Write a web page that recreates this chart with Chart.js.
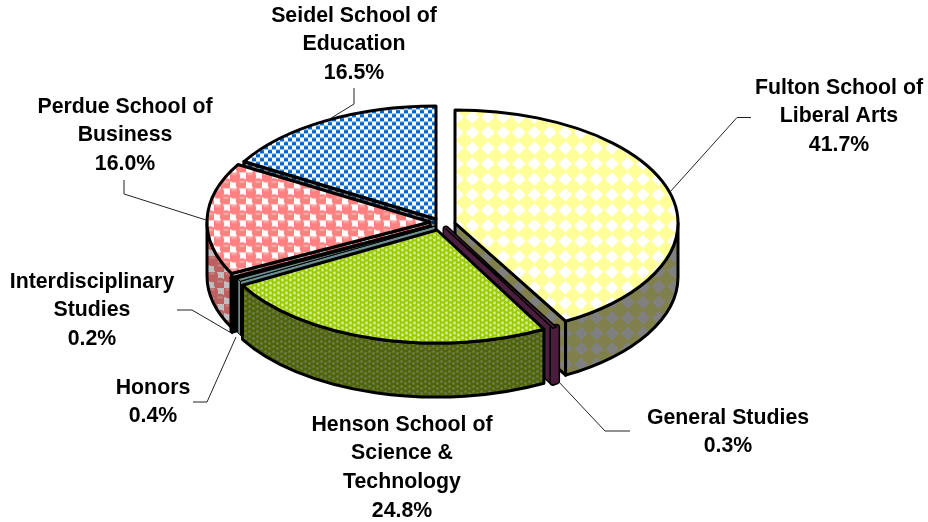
<!DOCTYPE html>
<html>
<head>
<meta charset="utf-8">
<style>
  html, body { margin: 0; padding: 0; background: #fff; }
  #wrap { width: 928px; height: 522px; }
</style>
<script src="https://cdn.jsdelivr.net/npm/chart.js@4/dist/chart.umd.min.js"></script>
</head>
<body>
<div id="wrap"><canvas id="pieChart" width="928" height="522"></canvas></div>
<script>
// Chart data
const schools = [
    ["Fulton School of", "Liberal Arts"],
    ["General Studies"],
    ["Henson School of", "Science &", "Technology"],
    ["Honors"],
    ["Interdisciplinary", "Studies"],
    ["Perdue School of", "Business"],
    ["Seidel School of", "Education"],
];
const shares = [41.7, 0.3, 24.8, 0.4, 0.2, 16.0, 16.5];

// Look of the 3D pie
const squash = 0.507;
const depth = 54;
const pieRadius = 223;
const sliceShift = [[15, -1], [6, 5], [-3, 6], [-5, 2], [-11, 2], [-10, -2], [-4, -5]]; // exploded slices
const drawOrder = [6, 0, 5, 1, 4, 3, 2]; // back to front
const edgeWidth = [3, 1.4, 3, 1, 2, 3, 3];
const fatSlice = [0, 4, 0, 0, 0, 0, 0]; // too thin to see otherwise

// Label centres and leader lines
const labelSpots = [[839, 88], [728, 418], [402, 425], [153, 388], [92, 282], [125, 107], [354, 16]];
const lineHeight = 28.6;
const leaders = [
    [[751, 117.5], [737, 117.5], [670, 192]],
    [[630, 431], [605, 431], [558, 381]],
    [],
    [[193, 402], [207, 402], [236, 337]],
    [[177, 310], [192, 310], [233, 334]],
    [[124, 180], [124, 194], [206, 220]],
    [[354, 88], [354, 104], [328, 120]],
];

// Pattern tiles. f < 1 gives the darker version for the walls
function scaleColor(hex, f) {
    const n = parseInt(hex.slice(1), 16);
    const r = Math.round(((n >> 16) & 255) * f);
    const g = Math.round(((n >> 8) & 255) * f);
    const b = Math.round((n & 255) * f);
    return `rgb(${r},${g},${b})`;
}

function makeTile(w, h, paint) {
    const c = document.createElement("canvas");
    c.width = w;
    c.height = h;
    paint(c.getContext("2d"));
    return c;
}

function diamondTile(f) {
    return makeTile(31, 31, (t) => {
        t.fillStyle = scaleColor("#FFFF99", f);
        t.fillRect(0, 0, 31, 31);
        t.fillStyle = scaleColor("#FFFFFF", f);
        [[7.75, 7.75], [23.25, 7.75], [7.75, 23.25], [23.25, 23.25]].forEach(([x, y]) => {
            t.beginPath();
            t.moveTo(x - 6.8, y);
            t.lineTo(x, y - 6.8);
            t.lineTo(x + 6.8, y);
            t.lineTo(x, y + 6.8);
            t.closePath();
            t.fill();
        });
    });
}

function dotTile(f) {
    return makeTile(8, 10, (t) => {
        t.fillStyle = scaleColor("#99CC00", f);
        t.fillRect(0, 0, 8, 10);
        t.fillStyle = scaleColor("#C4E060", f);
        t.fillRect(0, 0, 3, 3);
        t.fillRect(0, 5, 3, 3);
        t.fillRect(4, 2, 3, 3);
        t.fillRect(4, 7, 3, 3);
        t.fillStyle = scaleColor("#FFFFFF", f);
        t.fillRect(1, 1, 1, 1);
        t.fillRect(1, 6, 1, 1);
        t.fillRect(5, 3, 1, 1);
        t.fillRect(5, 8, 1, 1);
    });
}

function sphereTile(f) {
    return makeTile(16, 16, (t) => {
        t.fillStyle = scaleColor("#FFFFFF", f);
        t.fillRect(0, 0, 16, 16);
        [[4, 4], [12, 12]].forEach(([x, y]) => {
            t.fillStyle = scaleColor("#FF8080", f);
            t.beginPath();
            t.arc(x, y, 6.2, 0, Math.PI * 2);
            t.fill();
            t.fillStyle = scaleColor("#FFB0B0", f);
            t.fillRect(x - 2.5, y - 3.5, 5, 2);
        });
    });
}

function checkTile(f) {
    return makeTile(8, 8, (t) => {
        t.fillStyle = scaleColor("#0066CC", f);
        t.fillRect(0, 0, 8, 8);
        t.fillStyle = scaleColor("#5C9EE0", f);
        t.fillRect(0, 0, 8, 1);
        t.fillRect(0, 4, 8, 1);
        t.fillStyle = scaleColor("#FFFFFF", f);
        t.fillRect(0, 0, 4, 4);
        t.fillRect(4, 4, 4, 4);
    });
}

const canvas = document.getElementById("pieChart");
const ctx = canvas.getContext("2d");

function flatPattern(tile) {
    return ctx.createPattern(tile, "repeat");
}

// tops are filled under the squash transform, so undo it for the pattern
function topPattern(tile) {
    const p = ctx.createPattern(tile, "repeat");
    p.setTransform(new DOMMatrix().scale(1, 1 / squash));
    return p;
}

const topFills = [
    topPattern(diamondTile(1)),
    "#4A1E3C",
    topPattern(dotTile(1)),
    "#6B8E8E",
    "#000000",
    topPattern(sphereTile(1)),
    topPattern(checkTile(1)),
];
const wallFills = [
    flatPattern(diamondTile(0.5)),
    "#4A1E3C",
    flatPattern(dotTile(0.5)),
    "#6B8E8E",
    "#000000",
    flatPattern(sphereTile(0.75)),
    flatPattern(checkTile(0.5)),
];

// thin slices get a wide stroke in their own colour inside the black edge
function paintShape(c, i, fill) {
    c.lineJoin = "round";
    if (fatSlice[i]) {
        c.lineWidth = fatSlice[i] + 3;
        c.strokeStyle = "#000";
        c.stroke();
        c.lineWidth = fatSlice[i];
        c.strokeStyle = fill;
        c.stroke();
        c.fillStyle = fill;
        c.fill();
        return;
    }
    c.fillStyle = fill;
    c.fill();
    c.lineWidth = edgeWidth[i];
    c.strokeStyle = "#000";
    c.stroke();
}

// Draws the slices one by one: walls, then the flat top through arc.draw
const pie3d = {
    id: "pie3d",
    beforeDatasetDraw(chart, args) {
        const c = chart.ctx;
        const arcs = args.meta.data;
        drawOrder.forEach((i) => {
            const arc = arcs[i];
            const a0 = arc.startAngle;
            const a1 = arc.endAngle;
            const r = arc.outerRadius;
            const ax = arc.x + sliceShift[i][0];
            const ay = arc.y + sliceShift[i][1];
            const rimX = (a) => ax + r * Math.cos(a);
            const rimY = (a) => ay + r * squash * Math.sin(a);

            // cut faces turned to the viewer
            [[a0, a0 - Math.PI / 2], [a1, a1 + Math.PI / 2]].forEach(([a, normal]) => {
                if (Math.sin(normal) > 0.01) {
                    c.beginPath();
                    c.moveTo(ax, ay);
                    c.lineTo(rimX(a), rimY(a));
                    c.lineTo(rimX(a), rimY(a) + depth);
                    c.lineTo(ax, ay + depth);
                    c.closePath();
                    paintShape(c, i, wallFills[i]);
                }
            });

            // outer wall, only the front half of the rim shows
            const from = Math.max(a0, 0);
            const to = Math.min(a1, Math.PI);
            if (to > from) {
                c.beginPath();
                c.ellipse(ax, ay, r, r * squash, 0, from, to);
                c.ellipse(ax, ay + depth, r, r * squash, 0, to, from, true);
                c.closePath();
                paintShape(c, i, wallFills[i]);
            }

            // flat top
            c.save();
            c.translate(sliceShift[i][0], arc.y + sliceShift[i][1]);
            c.scale(1, squash);
            c.translate(0, -arc.y);
            arc.draw(c, chart.chartArea);
            c.restore();

            c.beginPath();
            c.moveTo(ax, ay);
            c.ellipse(ax, ay, r, r * squash, 0, a0, a1);
            c.closePath();
            c.lineWidth = edgeWidth[i];
            c.strokeStyle = "#000";
            c.lineJoin = "round";
            c.stroke();
        });
        return false; // slices are done here
    },
    afterDraw(chart) {
        const c = chart.ctx;
        c.save();
        c.strokeStyle = "#222";
        c.lineWidth = 1;
        leaders.forEach((pts) => {
            if (!pts.length) return;
            c.beginPath();
            pts.forEach(([x, y], n) => (n ? c.lineTo(x, y) : c.moveTo(x, y)));
            c.stroke();
        });
        c.fillStyle = "#000";
        c.font = "bold 21.3px 'Liberation Sans', Arial, sans-serif";
        c.textAlign = "center";
        c.textBaseline = "middle";
        schools.forEach((lines, i) => {
            const [x, y] = labelSpots[i];
            lines.concat(shares[i].toFixed(1) + "%").forEach((text, n) => {
                c.fillText(text, x, y + n * lineHeight);
            });
        });
        c.restore();
    },
};

const pieChart = new Chart(ctx, {
    type: "pie",
    data: {
        labels: schools.map((s) => s.join(" ")),
        datasets: [{
            data: shares,
            backgroundColor: topFills,
            borderWidth: 0,
            radius: pieRadius,
            clip: false,
        }],
    },
    options: {
        responsive: false,
        animation: false,
        layout: { padding: { right: 48, bottom: 74 } },
        plugins: {
            legend: { display: false },
            tooltip: { enabled: false },
        },
    },
    plugins: [pie3d],
});
</script>
</body>
</html>
